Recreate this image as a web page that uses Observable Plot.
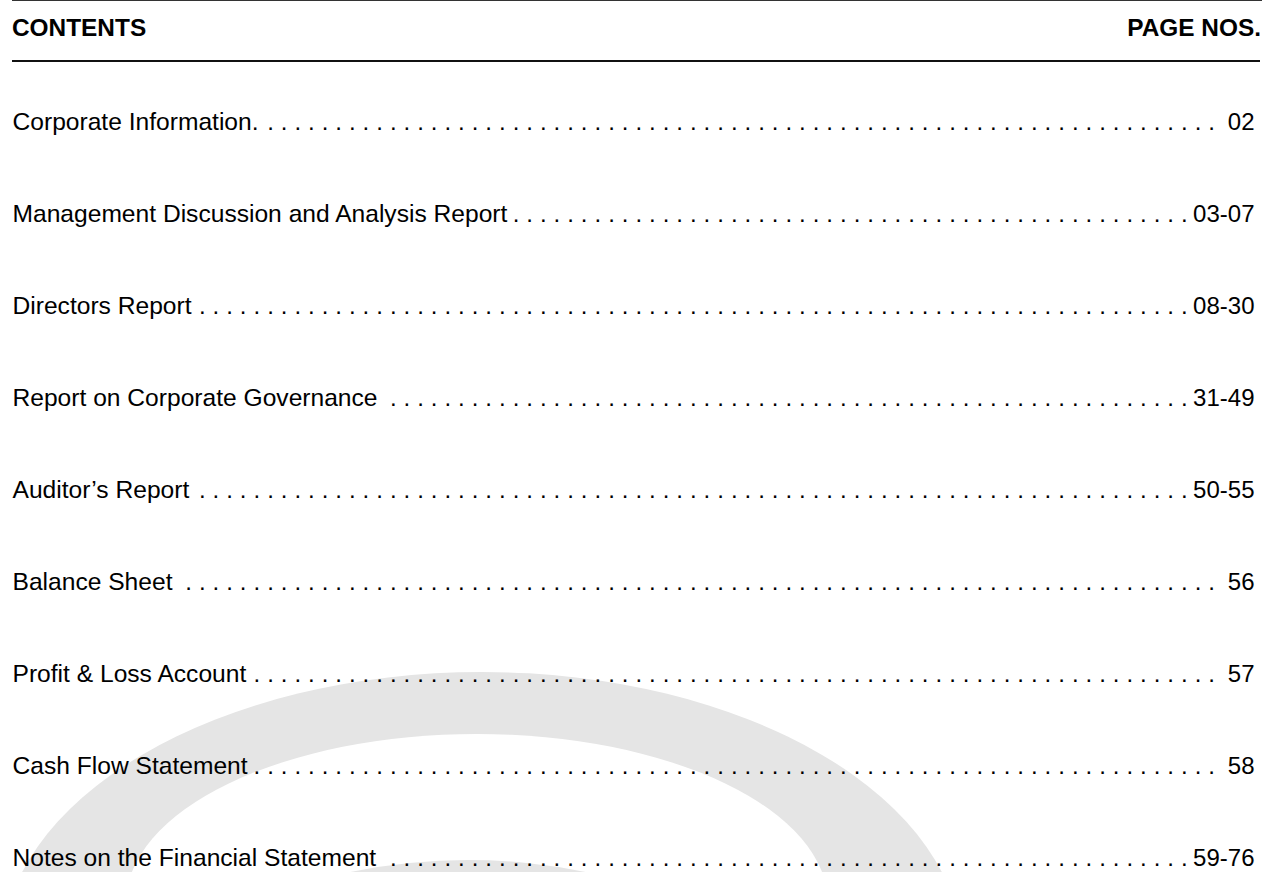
<!DOCTYPE html>
<html>
<head>
<meta charset="utf-8">
<script src="https://cdn.jsdelivr.net/npm/d3@7"></script>
<script src="https://cdn.jsdelivr.net/npm/@observablehq/plot@0.6"></script>
<style>
  html, body { margin: 0; padding: 0; background: #fff; overflow: hidden; }
  #page { position: relative; width: 1262px; height: 872px; overflow: hidden;
          font-family: "Liberation Sans", Arial, sans-serif; }
  #hdr { position: relative; width: 1262px; height: 62px; }
  .rule { position: absolute; height: 1px; background: #333; }
  .h { position: absolute; top: 16px; font-weight: bold; font-size: 24.4px; line-height: 24px;
       color: #000; white-space: nowrap; }
  #chart svg { display: block; }
</style>
</head>
<body>
<div id="page">
  <div id="hdr">
    <div class="rule" style="left:12px; right:0; top:0;"></div>
    <div class="h" style="left:12px;">CONTENTS</div>
    <div class="h" style="right:1px;">PAGE NOS.</div>
    <div class="rule" style="left:12px; width:1248px; top:60px; height:1.5px; background:#111;"></div>
  </div>
  <div id="chart"></div>
</div>
<script>
// ---- data ----
const sections = [
  "Corporate Information.",
  "Management Discussion and Analysis Report",
  "Directors Report",
  "Report on Corporate Governance",
  "Auditor’s Report",
  "Balance Sheet",
  "Profit & Loss Account",
  "Cash Flow Statement",
  "Notes on the Financial Statement"
];
const pages = ["02", "03-07", "08-30", "31-49", "50-55", "56", "57", "58", "59-76"];

// ---- layout ----
const W = 1262, H = 810, mL = 12, mR = 8;
const TITLE_SIZE = 24.6, PAGE_SIZE = 24;
const FONT = "'Liberation Sans', Arial, sans-serif";
const rows = sections.map((s, i) => ({section: s, page: pages[i], row: i}));

// leader dots on a common tab-leader grid, between each title and its page number
const ctx = document.createElement("canvas").getContext("2d");
const leaderStep = 13.64, leaderPhase = 420;
const leaders = [];
rows.forEach(r => {
  ctx.font = `${TITLE_SIZE}px 'Liberation Sans'`;
  const tEnd = mL + ctx.measureText(r.section).width;
  ctx.font = `${PAGE_SIZE}px 'Liberation Sans'`;
  const nStart = W - mR - ctx.measureText(r.page).width;
  let k = Math.ceil((tEnd + 5 - leaderPhase) / leaderStep);
  for (; leaderPhase + k * leaderStep <= nStart - 3; k++) {
    leaders.push({row: r.row, x: leaderPhase + k * leaderStep});
  }
});

// decorative light-grey watermark arcs behind the list
const watermark = () => {
  const g = d3.create("svg:g");
  g.append("ellipse").attr("cx", 482).attr("cy", 893).attr("rx", 481).attr("ry", 283).attr("fill", "#e5e5e5");
  g.append("ellipse").attr("cx", 477).attr("cy", 841).attr("rx", 351).attr("ry", 169).attr("fill", "#ffffff");
  g.append("ellipse").attr("cx", 468).attr("cy", 948).attr("rx", 300).attr("ry", 150).attr("fill", "#e5e5e5");
  return g.node();
};

const chart = Plot.plot({
  width: W,
  height: H,
  marginTop: 67,
  marginBottom: 7,
  marginLeft: mL,
  marginRight: mR,
  x: {domain: [0, W], range: [0, W], axis: null},
  y: {domain: [0, sections.length - 1], reverse: true, axis: null},
  style: {fontFamily: FONT, fontSize: "24px", color: "#000", background: "transparent", overflow: "visible"},
  marks: [
    watermark,
    Plot.text(rows, {y: "row", text: "section", frameAnchor: "left", textAnchor: "start",
                     lineAnchor: "bottom", fontSize: TITLE_SIZE, fill: "#000"}),
    Plot.text(rows, {y: "row", text: "page", frameAnchor: "right", textAnchor: "end",
                     lineAnchor: "bottom", fontSize: PAGE_SIZE, fill: "#000"}),
    Plot.text(leaders, {x: "x", y: "row", text: () => ".", textAnchor: "middle",
                        lineAnchor: "bottom", fontSize: PAGE_SIZE, fill: "#000"})
  ]
});
document.getElementById("chart").appendChild(chart);
</script>
</body>
</html>
